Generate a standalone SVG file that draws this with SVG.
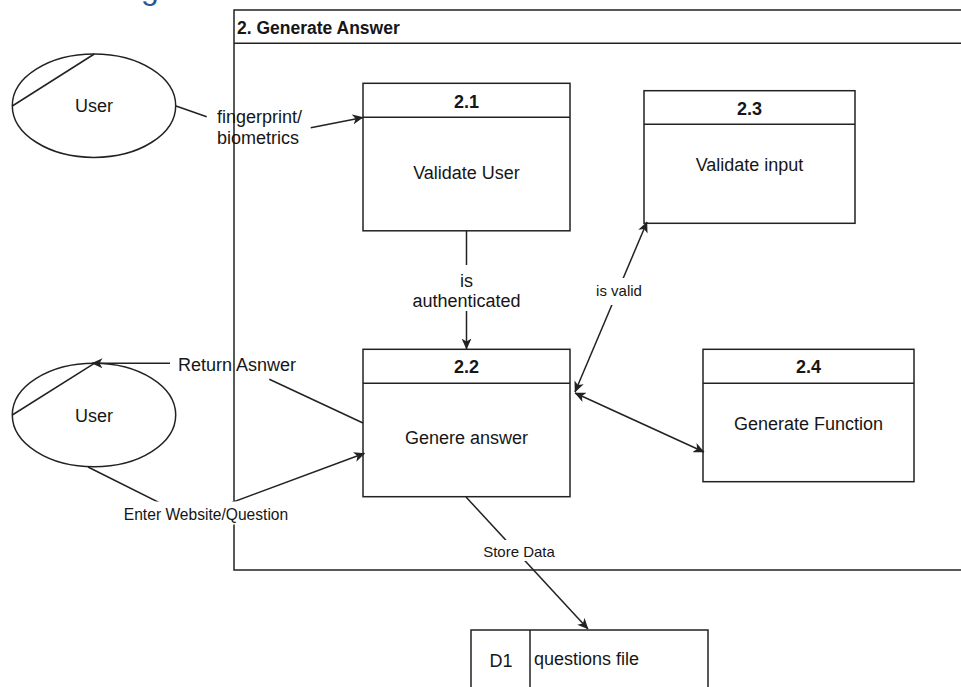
<svg xmlns="http://www.w3.org/2000/svg" width="961" height="687" viewBox="0 0 961 687">
  <defs>
    <style>
      .ln{fill:none;stroke:#222;stroke-width:1.5}
      .box{fill:#fff;stroke:#222;stroke-width:1.5}
      .t{font-family:"Liberation Sans",Arial,Helvetica,sans-serif;fill:#161616;text-anchor:middle}
      .s{text-anchor:start}
      .b{font-weight:bold}
      .f18{font-size:18px}
      .f15{font-size:15px}
      .bg{fill:#fff}
    </style>
    <marker id="arr" viewBox="0 0 11 10" refX="10.5" refY="5" markerWidth="11" markerHeight="10" markerUnits="userSpaceOnUse" orient="auto-start-reverse">
      <path d="M0,0 L11,5 L0,10 L3,5 Z" fill="#222"/>
    </marker>
  </defs>
  <rect width="961" height="687" fill="#fff"/>

  <!-- page title, only its lowest stroke falls inside the view -->
  <text x="141" y="-1.5" font-family="Liberation Sans,Arial,sans-serif" font-size="32" fill="#2F5496">g</text>

  <!-- process container -->
  <g id="container">
    <rect class="ln" x="234" y="10" width="760" height="560"/>
    <line class="ln" x1="234" y1="43.3" x2="994" y2="43.3"/>
    <text class="t b s" x="237" y="34" font-size="17.5">2. Generate Answer</text>
  </g>

  <!-- external entity: user (login) -->
  <g id="user-top">
    <ellipse class="box" cx="94" cy="105.7" rx="81.7" ry="51.7"/>
    <line class="ln" x1="12.3" y1="106" x2="94.3" y2="54"/>
    <text class="t f18" x="94" y="112">User</text>
  </g>

  <!-- external entity: user (question) -->
  <g id="user-bottom">
    <ellipse class="box" cx="94" cy="415" rx="81.7" ry="51.7"/>
    <line class="ln" x1="12.3" y1="415" x2="94.3" y2="363.3"/>
    <text class="t f18" x="94" y="422">User</text>
  </g>

  <g id="p2-1">
    <rect class="box" x="363" y="83.3" width="207" height="147.5"/>
    <line class="ln" x1="363" y1="117.3" x2="570" y2="117.3"/>
    <text class="t b f18" x="466.5" y="108">2.1</text>
    <text class="t f18" x="466.5" y="179">Validate User</text>
  </g>

  <g id="p2-2">
    <rect class="box" x="363" y="349.3" width="207" height="147.4"/>
    <line class="ln" x1="363" y1="383.3" x2="570" y2="383.3"/>
    <text class="t b f18" x="466.5" y="373">2.2</text>
    <text class="t f18" x="466.5" y="444">Genere answer</text>
  </g>

  <g id="p2-3">
    <rect class="box" x="644" y="90.7" width="211" height="132.6"/>
    <line class="ln" x1="644" y1="124.3" x2="855" y2="124.3"/>
    <text class="t b f18" x="749.5" y="115">2.3</text>
    <text class="t f18" x="749.5" y="170.7">Validate input</text>
  </g>

  <g id="p2-4">
    <rect class="box" x="703" y="349.3" width="211" height="132.4"/>
    <line class="ln" x1="703" y1="383.3" x2="914" y2="383.3"/>
    <text class="t b f18" x="808.5" y="373">2.4</text>
    <text class="t f18" x="808.5" y="429.5">Generate Function</text>
  </g>

  <!-- data store -->
  <g id="d1">
    <rect class="box" x="471" y="630" width="237" height="80"/>
    <line class="ln" x1="530" y1="630" x2="530" y2="710"/>
    <text class="t f18" x="501" y="666.7">D1</text>
    <text class="t f18 s" x="534" y="665">questions file</text>
  </g>

  <g id="connectors">
    <!-- user -> 2.1 -->
    <path class="ln" d="M176,106 L206.7,116.7"/>
    <path class="ln" d="M310.7,127.7 L363,117.4" marker-end="url(#arr)"/>
    <text class="t f18 s" x="217" y="122.7">fingerprint/</text>
    <text class="t f18 s" x="217" y="144">biometrics</text>

    <!-- 2.2 -> user -->
    <path class="ln" d="M363,423 L269.3,379.3"/>
    <path class="ln" d="M170,363.3 L92,363.3" marker-end="url(#arr)"/>
    <text class="t f18" x="237" y="371">Return Asnwer</text>

    <!-- user -> 2.2 -->
    <path class="ln" d="M88,467 L190,518 L364.5,453.3" marker-end="url(#arr)"/>
    <rect class="bg" x="120" y="501.5" width="172" height="23"/>
    <text class="t" x="206" y="520" font-size="15.6">Enter Website/Question</text>

    <!-- 2.1 -> 2.2 -->
    <path class="ln" d="M466.5,230.8 L466.5,349" marker-end="url(#arr)"/>
    <rect class="bg" x="410" y="265" width="113" height="46"/>
    <text class="t f18" x="466.5" y="286.7">is</text>
    <text class="t f18" x="466.5" y="307">authenticated</text>

    <!-- 2.2 <-> 2.3 -->
    <path class="ln" d="M575,392 L647,222" marker-start="url(#arr)" marker-end="url(#arr)"/>
    <rect class="bg" x="595" y="278" width="48" height="27"/>
    <text class="t f15" x="619" y="295.5">is valid</text>

    <!-- 2.2 <-> 2.4 -->
    <path class="ln" d="M575,393 L704,452" marker-start="url(#arr)" marker-end="url(#arr)"/>

    <!-- 2.2 -> D1 -->
    <path class="ln" d="M466,497 L588,629" marker-end="url(#arr)"/>
    <rect class="bg" x="480" y="540" width="78" height="21"/>
    <text class="t f15" x="519" y="557">Store Data</text>
  </g>
</svg>
